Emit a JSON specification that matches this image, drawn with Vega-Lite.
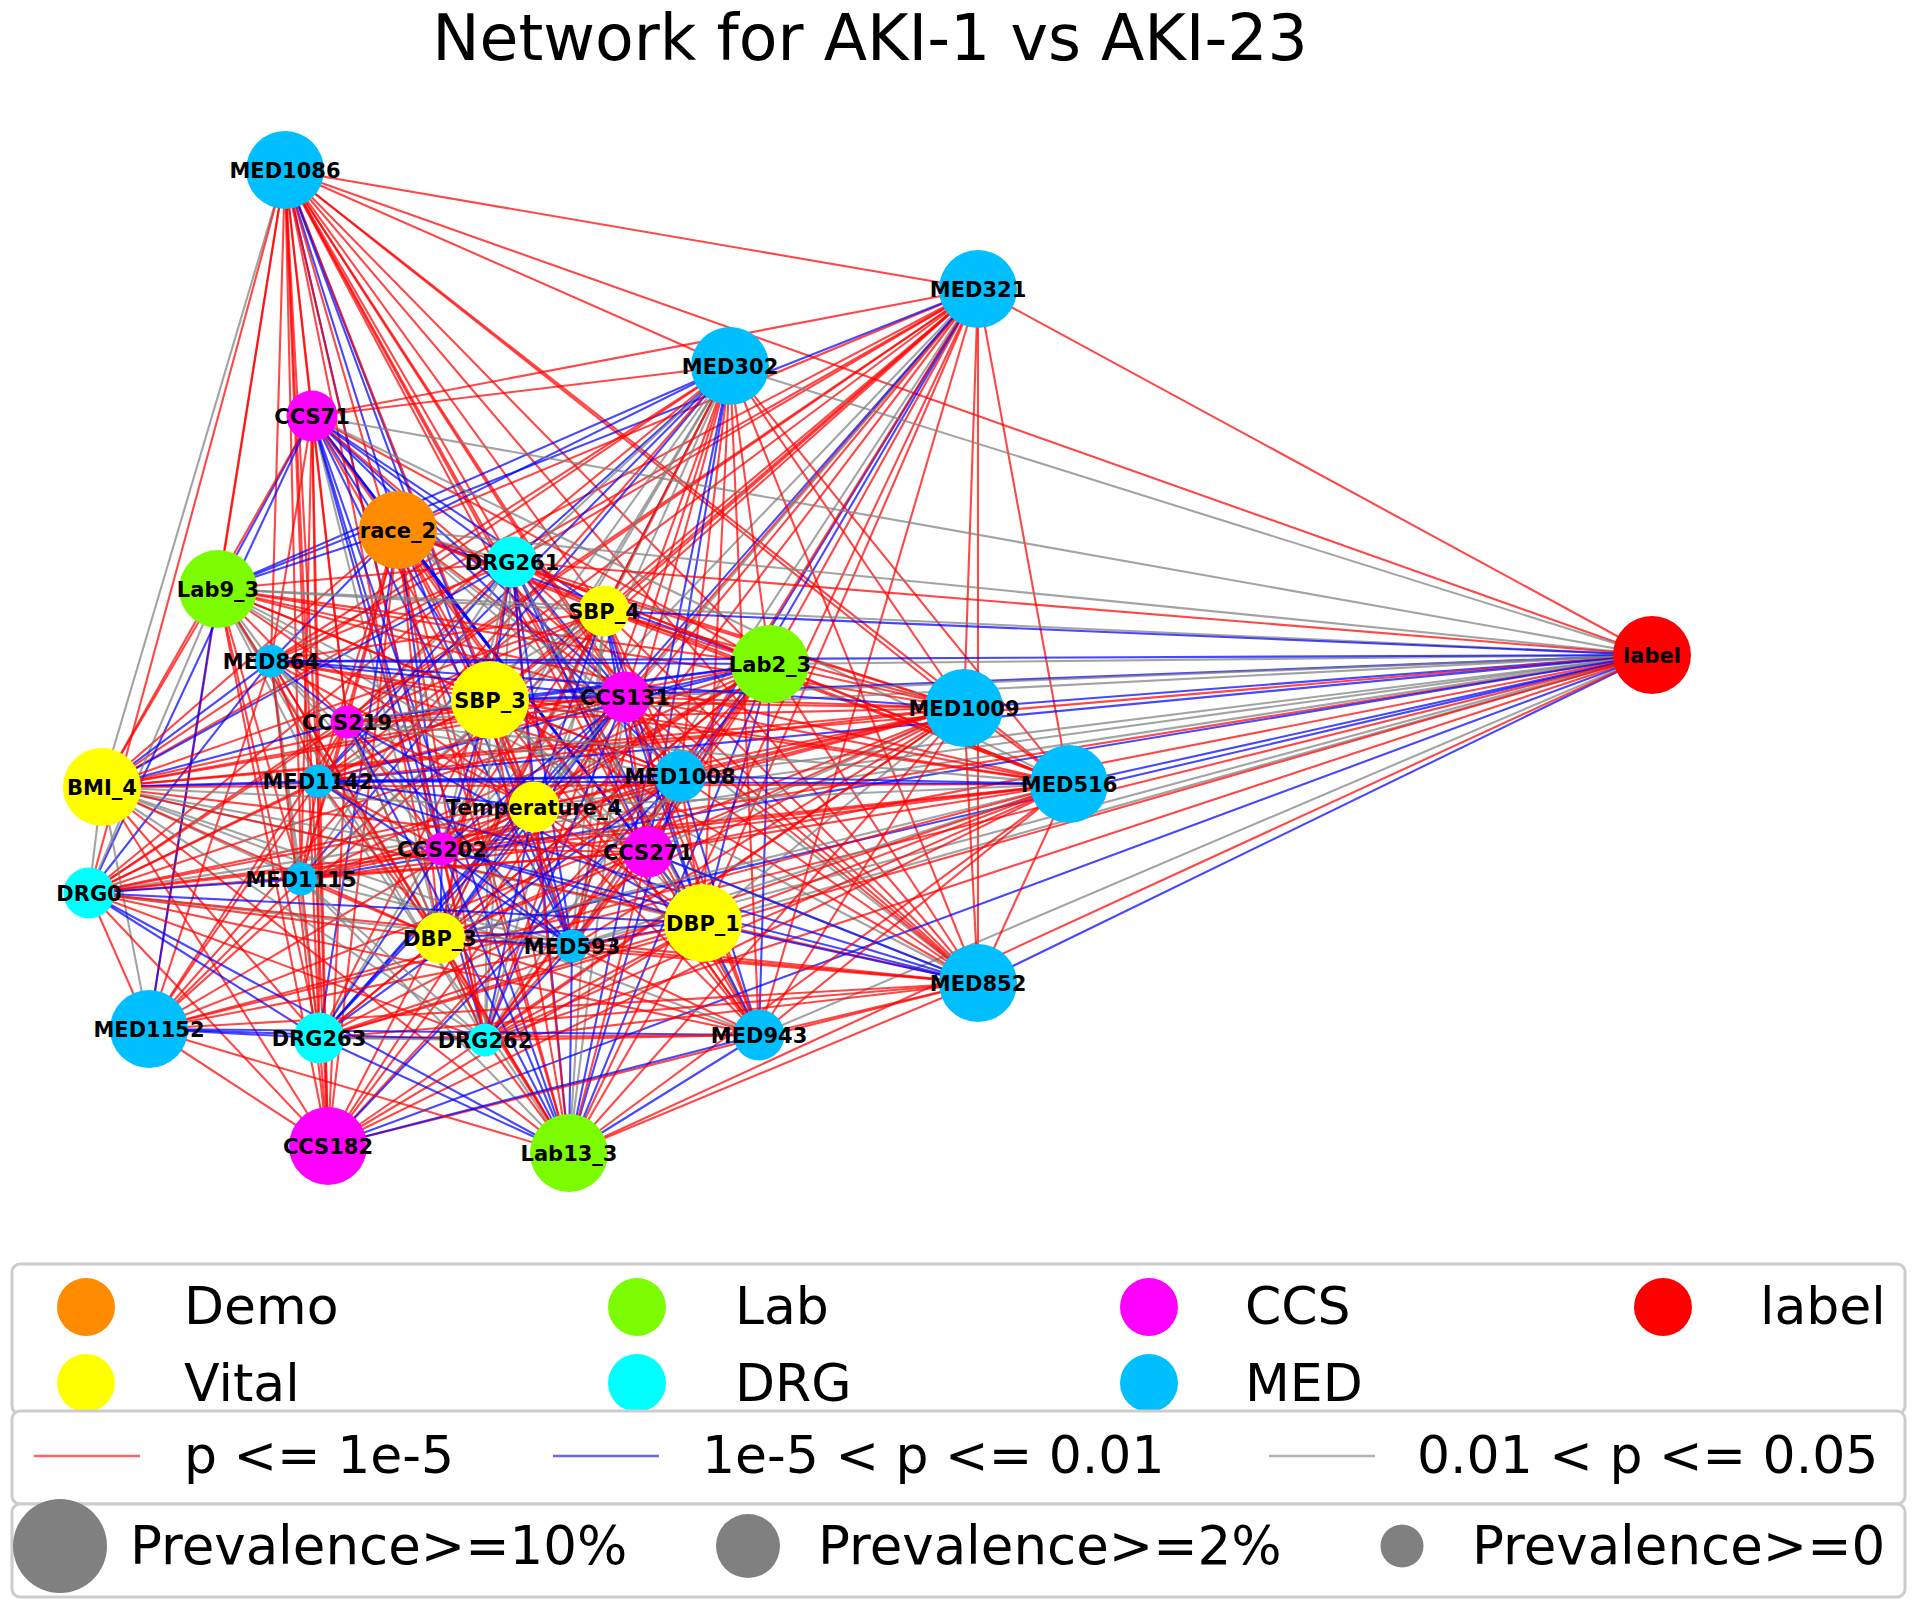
{"$schema":"https://vega.github.io/schema/vega-lite/v6.json","width":1920,"height":1613,"autosize":"none","padding":0,"background":"white","title":{"text":"Network for AKI-1 vs AKI-23","font":"DejaVu Sans","fontSize":63.3,"fontWeight":"normal","color":"black","anchor":"middle","dx":-90,"offset":-73,"frame":"group"},"config":{"view":{"stroke":null}},"resolve":{"scale":{"size":"independent"}},"datasets":{"nodes":[{"id":1,"name":"MED1086","group":"MED","prevalence":10,"x":285,"y":170},{"id":2,"name":"MED321","group":"MED","prevalence":10,"x":978,"y":289},{"id":3,"name":"MED302","group":"MED","prevalence":10,"x":730,"y":366},{"id":4,"name":"CCS71","group":"CCS","prevalence":2,"x":312,"y":416},{"id":5,"name":"race_2","group":"Demo","prevalence":10,"x":398,"y":530},{"id":6,"name":"DRG261","group":"DRG","prevalence":2,"x":512,"y":562},{"id":7,"name":"Lab9_3","group":"Lab","prevalence":10,"x":218,"y":589},{"id":8,"name":"SBP_4","group":"Vital","prevalence":2,"x":604,"y":611},{"id":9,"name":"label","group":"label","prevalence":10,"x":1652,"y":655},{"id":10,"name":"Lab2_3","group":"Lab","prevalence":10,"x":770,"y":664},{"id":11,"name":"MED864","group":"MED","prevalence":0,"x":271,"y":661},{"id":12,"name":"SBP_3","group":"Vital","prevalence":10,"x":490,"y":700},{"id":13,"name":"CCS131","group":"CCS","prevalence":2,"x":625,"y":697},{"id":14,"name":"MED1009","group":"MED","prevalence":10,"x":964,"y":708},{"id":15,"name":"CCS219","group":"CCS","prevalence":0,"x":347,"y":722},{"id":16,"name":"BMI_4","group":"Vital","prevalence":10,"x":102,"y":787},{"id":17,"name":"MED1142","group":"MED","prevalence":0,"x":318,"y":781},{"id":18,"name":"MED1008","group":"MED","prevalence":2,"x":680,"y":776},{"id":19,"name":"MED516","group":"MED","prevalence":10,"x":1069,"y":784},{"id":20,"name":"Temperature_4","group":"Vital","prevalence":2,"x":534,"y":807},{"id":21,"name":"CCS202","group":"CCS","prevalence":0,"x":442,"y":849},{"id":22,"name":"CCS271","group":"CCS","prevalence":2,"x":648,"y":852},{"id":23,"name":"DRG0","group":"DRG","prevalence":2,"x":89,"y":893},{"id":24,"name":"MED1115","group":"MED","prevalence":0,"x":301,"y":879},{"id":25,"name":"DBP_1","group":"Vital","prevalence":10,"x":703,"y":923},{"id":26,"name":"DBP_3","group":"Vital","prevalence":2,"x":440,"y":938},{"id":27,"name":"MED593","group":"MED","prevalence":0,"x":572,"y":946},{"id":28,"name":"MED852","group":"MED","prevalence":10,"x":978,"y":983},{"id":29,"name":"MED943","group":"MED","prevalence":2,"x":759,"y":1035},{"id":30,"name":"MED1152","group":"MED","prevalence":10,"x":149,"y":1029},{"id":31,"name":"DRG263","group":"DRG","prevalence":2,"x":319,"y":1038},{"id":32,"name":"DRG262","group":"DRG","prevalence":0,"x":485,"y":1040},{"id":33,"name":"CCS182","group":"CCS","prevalence":10,"x":328,"y":1146},{"id":34,"name":"Lab13_3","group":"Lab","prevalence":10,"x":569,"y":1153}],"edges":[
{"s":1,"t":2,"p":1},{"s":1,"t":3,"p":1},{"s":1,"t":4,"p":1},{"s":1,"t":5,"p":2},{"s":1,"t":6,"p":1},{"s":1,"t":7,"p":1},{"s":1,"t":8,"p":1},{"s":1,"t":9,"p":1},{"s":1,"t":10,"p":1},{"s":1,"t":11,"p":1},{"s":1,"t":12,"p":2},{"s":1,"t":13,"p":1},{"s":1,"t":14,"p":1},{"s":1,"t":15,"p":1},{"s":1,"t":16,"p":3},{"s":1,"t":17,"p":1},{"s":1,"t":18,"p":1},{"s":1,"t":19,"p":1},{"s":1,"t":20,"p":1},{"s":1,"t":21,"p":2},{"s":1,"t":22,"p":1},{"s":1,"t":23,"p":1},{"s":1,"t":24,"p":1},{"s":1,"t":25,"p":1},{"s":1,"t":26,"p":1},{"s":1,"t":27,"p":2},{"s":1,"t":28,"p":1},{"s":1,"t":29,"p":1},{"s":1,"t":30,"p":1},{"s":1,"t":31,"p":1},{"s":1,"t":32,"p":1},{"s":1,"t":33,"p":1},{"s":1,"t":34,"p":1},
{"s":2,"t":4,"p":1},{"s":2,"t":5,"p":1},{"s":2,"t":6,"p":1},{"s":2,"t":7,"p":2},{"s":2,"t":8,"p":1},{"s":2,"t":9,"p":1},{"s":2,"t":10,"p":1},{"s":2,"t":11,"p":1},{"s":2,"t":12,"p":1},{"s":2,"t":13,"p":1},{"s":2,"t":14,"p":1},{"s":2,"t":15,"p":1},{"s":2,"t":16,"p":1},{"s":2,"t":17,"p":1},{"s":2,"t":18,"p":2},{"s":2,"t":19,"p":1},{"s":2,"t":20,"p":3},{"s":2,"t":21,"p":3},{"s":2,"t":22,"p":2},{"s":2,"t":23,"p":1},{"s":2,"t":24,"p":1},{"s":2,"t":25,"p":1},{"s":2,"t":26,"p":1},{"s":2,"t":27,"p":1},{"s":2,"t":28,"p":1},{"s":2,"t":29,"p":1},{"s":2,"t":30,"p":1},{"s":2,"t":31,"p":2},{"s":2,"t":32,"p":3},{"s":2,"t":33,"p":1},{"s":2,"t":34,"p":1},
{"s":3,"t":4,"p":1},{"s":3,"t":5,"p":2},{"s":3,"t":6,"p":2},{"s":3,"t":7,"p":2},{"s":3,"t":8,"p":1},{"s":3,"t":9,"p":3},{"s":3,"t":10,"p":1},{"s":3,"t":11,"p":1},{"s":3,"t":12,"p":3},{"s":3,"t":13,"p":1},{"s":3,"t":14,"p":1},{"s":3,"t":15,"p":3},{"s":3,"t":16,"p":1},{"s":3,"t":17,"p":2},{"s":3,"t":18,"p":1},{"s":3,"t":19,"p":1},{"s":3,"t":20,"p":3},{"s":3,"t":21,"p":3},{"s":3,"t":22,"p":2},{"s":3,"t":23,"p":1},{"s":3,"t":24,"p":2},{"s":3,"t":25,"p":1},{"s":3,"t":26,"p":3},{"s":3,"t":27,"p":1},{"s":3,"t":28,"p":1},{"s":3,"t":29,"p":1},{"s":3,"t":30,"p":1},{"s":3,"t":31,"p":3},{"s":3,"t":32,"p":1},{"s":3,"t":33,"p":1},{"s":3,"t":34,"p":2},
{"s":4,"t":5,"p":2},{"s":4,"t":6,"p":2},{"s":4,"t":7,"p":2},{"s":4,"t":8,"p":2},{"s":4,"t":9,"p":3},{"s":4,"t":10,"p":1},{"s":4,"t":11,"p":1},{"s":4,"t":12,"p":2},{"s":4,"t":13,"p":2},{"s":4,"t":15,"p":1},{"s":4,"t":16,"p":1},{"s":4,"t":17,"p":1},{"s":4,"t":18,"p":2},{"s":4,"t":19,"p":3},{"s":4,"t":20,"p":1},{"s":4,"t":21,"p":2},{"s":4,"t":22,"p":2},{"s":4,"t":23,"p":2},{"s":4,"t":24,"p":1},{"s":4,"t":25,"p":2},{"s":4,"t":26,"p":3},{"s":4,"t":27,"p":2},{"s":4,"t":28,"p":1},{"s":4,"t":29,"p":1},{"s":4,"t":32,"p":2},{"s":4,"t":33,"p":1},{"s":4,"t":34,"p":2},
{"s":5,"t":6,"p":3},{"s":5,"t":7,"p":2},{"s":5,"t":8,"p":1},{"s":5,"t":9,"p":3},{"s":5,"t":10,"p":2},{"s":5,"t":11,"p":2},{"s":5,"t":12,"p":1},{"s":5,"t":13,"p":1},{"s":5,"t":14,"p":1},{"s":5,"t":15,"p":1},{"s":5,"t":16,"p":1},{"s":5,"t":17,"p":1},{"s":5,"t":18,"p":3},{"s":5,"t":19,"p":1},{"s":5,"t":20,"p":1},{"s":5,"t":21,"p":2},{"s":5,"t":22,"p":2},{"s":5,"t":24,"p":1},{"s":5,"t":25,"p":2},{"s":5,"t":26,"p":1},{"s":5,"t":27,"p":2},{"s":5,"t":28,"p":3},{"s":5,"t":29,"p":1},{"s":5,"t":31,"p":2},{"s":5,"t":32,"p":1},{"s":5,"t":33,"p":1},{"s":5,"t":34,"p":1},
{"s":6,"t":7,"p":1},{"s":6,"t":8,"p":1},{"s":6,"t":9,"p":1},{"s":6,"t":10,"p":1},{"s":6,"t":11,"p":1},{"s":6,"t":12,"p":2},{"s":6,"t":13,"p":2},{"s":6,"t":14,"p":1},{"s":6,"t":15,"p":1},{"s":6,"t":16,"p":2},{"s":6,"t":17,"p":2},{"s":6,"t":18,"p":1},{"s":6,"t":19,"p":1},{"s":6,"t":20,"p":1},{"s":6,"t":21,"p":3},{"s":6,"t":22,"p":2},{"s":6,"t":24,"p":3},{"s":6,"t":25,"p":2},{"s":6,"t":26,"p":1},{"s":6,"t":27,"p":2},{"s":6,"t":28,"p":1},{"s":6,"t":29,"p":3},{"s":6,"t":32,"p":3},{"s":6,"t":34,"p":2},
{"s":7,"t":8,"p":3},{"s":7,"t":9,"p":3},{"s":7,"t":10,"p":1},{"s":7,"t":11,"p":3},{"s":7,"t":12,"p":1},{"s":7,"t":13,"p":1},{"s":7,"t":14,"p":1},{"s":7,"t":15,"p":1},{"s":7,"t":16,"p":1},{"s":7,"t":17,"p":3},{"s":7,"t":18,"p":1},{"s":7,"t":19,"p":1},{"s":7,"t":20,"p":1},{"s":7,"t":22,"p":3},{"s":7,"t":23,"p":3},{"s":7,"t":24,"p":1},{"s":7,"t":26,"p":3},{"s":7,"t":28,"p":3},{"s":7,"t":30,"p":2},{"s":7,"t":31,"p":1},{"s":7,"t":32,"p":3},{"s":7,"t":33,"p":1},{"s":7,"t":34,"p":1},
{"s":8,"t":9,"p":2},{"s":8,"t":10,"p":1},{"s":8,"t":11,"p":1},{"s":8,"t":12,"p":1},{"s":8,"t":13,"p":2},{"s":8,"t":14,"p":1},{"s":8,"t":15,"p":1},{"s":8,"t":16,"p":1},{"s":8,"t":17,"p":3},{"s":8,"t":18,"p":1},{"s":8,"t":19,"p":1},{"s":8,"t":20,"p":2},{"s":8,"t":21,"p":1},{"s":8,"t":22,"p":2},{"s":8,"t":24,"p":3},{"s":8,"t":25,"p":2},{"s":8,"t":26,"p":1},{"s":8,"t":27,"p":3},{"s":8,"t":28,"p":1},{"s":8,"t":29,"p":1},{"s":8,"t":32,"p":3},{"s":8,"t":34,"p":3},
{"s":9,"t":10,"p":3},{"s":9,"t":11,"p":2},{"s":9,"t":12,"p":2},{"s":9,"t":13,"p":3},{"s":9,"t":14,"p":2},{"s":9,"t":15,"p":3},{"s":9,"t":16,"p":1},{"s":9,"t":17,"p":2},{"s":9,"t":18,"p":3},{"s":9,"t":19,"p":2},{"s":9,"t":20,"p":3},{"s":9,"t":21,"p":1},{"s":9,"t":22,"p":1},{"s":9,"t":23,"p":3},{"s":9,"t":24,"p":2},{"s":9,"t":25,"p":3},{"s":9,"t":26,"p":2},{"s":9,"t":27,"p":3},{"s":9,"t":28,"p":2},{"s":9,"t":29,"p":3},{"s":9,"t":30,"p":1},{"s":9,"t":31,"p":1},{"s":9,"t":32,"p":1},{"s":9,"t":33,"p":2},{"s":9,"t":34,"p":1},
{"s":10,"t":11,"p":2},{"s":10,"t":12,"p":2},{"s":10,"t":13,"p":2},{"s":10,"t":14,"p":1},{"s":10,"t":15,"p":2},{"s":10,"t":16,"p":1},{"s":10,"t":17,"p":2},{"s":10,"t":18,"p":2},{"s":10,"t":19,"p":1},{"s":10,"t":20,"p":1},{"s":10,"t":21,"p":1},{"s":10,"t":22,"p":1},{"s":10,"t":23,"p":1},{"s":10,"t":24,"p":1},{"s":10,"t":25,"p":2},{"s":10,"t":26,"p":1},{"s":10,"t":27,"p":1},{"s":10,"t":28,"p":1},{"s":10,"t":29,"p":2},{"s":10,"t":30,"p":1},{"s":10,"t":31,"p":1},{"s":10,"t":32,"p":1},{"s":10,"t":33,"p":1},{"s":10,"t":34,"p":2},
{"s":11,"t":12,"p":1},{"s":11,"t":13,"p":2},{"s":11,"t":14,"p":2},{"s":11,"t":15,"p":2},{"s":11,"t":16,"p":2},{"s":11,"t":17,"p":1},{"s":11,"t":18,"p":1},{"s":11,"t":19,"p":1},{"s":11,"t":20,"p":1},{"s":11,"t":21,"p":3},{"s":11,"t":23,"p":2},{"s":11,"t":24,"p":3},{"s":11,"t":26,"p":1},{"s":11,"t":27,"p":3},{"s":11,"t":30,"p":1},{"s":11,"t":31,"p":3},{"s":11,"t":33,"p":1},{"s":11,"t":34,"p":1},
{"s":12,"t":13,"p":2},{"s":12,"t":14,"p":1},{"s":12,"t":15,"p":3},{"s":12,"t":16,"p":1},{"s":12,"t":17,"p":1},{"s":12,"t":18,"p":1},{"s":12,"t":19,"p":1},{"s":12,"t":20,"p":1},{"s":12,"t":21,"p":2},{"s":12,"t":22,"p":3},{"s":12,"t":23,"p":1},{"s":12,"t":25,"p":3},{"s":12,"t":26,"p":1},{"s":12,"t":27,"p":1},{"s":12,"t":28,"p":1},{"s":12,"t":29,"p":1},{"s":12,"t":31,"p":1},{"s":12,"t":32,"p":3},{"s":12,"t":34,"p":1},
{"s":13,"t":14,"p":1},{"s":13,"t":15,"p":1},{"s":13,"t":16,"p":1},{"s":13,"t":17,"p":1},{"s":13,"t":18,"p":1},{"s":13,"t":19,"p":1},{"s":13,"t":20,"p":3},{"s":13,"t":21,"p":2},{"s":13,"t":22,"p":1},{"s":13,"t":25,"p":2},{"s":13,"t":26,"p":2},{"s":13,"t":27,"p":1},{"s":13,"t":28,"p":1},{"s":13,"t":29,"p":1},{"s":13,"t":31,"p":2},{"s":13,"t":32,"p":2},{"s":13,"t":33,"p":1},{"s":13,"t":34,"p":3},
{"s":14,"t":15,"p":1},{"s":14,"t":16,"p":1},{"s":14,"t":17,"p":1},{"s":14,"t":18,"p":1},{"s":14,"t":19,"p":1},{"s":14,"t":20,"p":1},{"s":14,"t":21,"p":1},{"s":14,"t":22,"p":3},{"s":14,"t":23,"p":1},{"s":14,"t":24,"p":1},{"s":14,"t":25,"p":3},{"s":14,"t":26,"p":1},{"s":14,"t":27,"p":1},{"s":14,"t":28,"p":1},{"s":14,"t":29,"p":1},{"s":14,"t":30,"p":1},{"s":14,"t":31,"p":1},{"s":14,"t":32,"p":1},{"s":14,"t":33,"p":1},{"s":14,"t":34,"p":1},
{"s":15,"t":16,"p":2},{"s":15,"t":17,"p":1},{"s":15,"t":18,"p":3},{"s":15,"t":19,"p":3},{"s":15,"t":20,"p":1},{"s":15,"t":21,"p":1},{"s":15,"t":23,"p":1},{"s":15,"t":24,"p":1},{"s":15,"t":25,"p":2},{"s":15,"t":26,"p":1},{"s":15,"t":27,"p":2},{"s":15,"t":30,"p":1},{"s":15,"t":32,"p":3},{"s":15,"t":33,"p":1},{"s":15,"t":34,"p":2},
{"s":16,"t":17,"p":2},{"s":16,"t":18,"p":2},{"s":16,"t":19,"p":1},{"s":16,"t":20,"p":3},{"s":16,"t":21,"p":3},{"s":16,"t":22,"p":1},{"s":16,"t":23,"p":3},{"s":16,"t":24,"p":3},{"s":16,"t":25,"p":3},{"s":16,"t":26,"p":1},{"s":16,"t":27,"p":3},{"s":16,"t":28,"p":1},{"s":16,"t":29,"p":3},{"s":16,"t":30,"p":3},{"s":16,"t":31,"p":1},{"s":16,"t":32,"p":3},{"s":16,"t":33,"p":1},{"s":16,"t":34,"p":1},
{"s":17,"t":18,"p":2},{"s":17,"t":19,"p":2},{"s":17,"t":20,"p":2},{"s":17,"t":21,"p":1},{"s":17,"t":23,"p":1},{"s":17,"t":24,"p":1},{"s":17,"t":26,"p":1},{"s":17,"t":27,"p":2},{"s":17,"t":28,"p":2},{"s":17,"t":30,"p":1},{"s":17,"t":31,"p":1},{"s":17,"t":33,"p":1},{"s":17,"t":34,"p":3},
{"s":18,"t":19,"p":2},{"s":18,"t":20,"p":1},{"s":18,"t":21,"p":1},{"s":18,"t":22,"p":1},{"s":18,"t":25,"p":1},{"s":18,"t":26,"p":1},{"s":18,"t":27,"p":3},{"s":18,"t":28,"p":1},{"s":18,"t":29,"p":2},{"s":18,"t":31,"p":2},{"s":18,"t":32,"p":1},{"s":18,"t":33,"p":2},{"s":18,"t":34,"p":2},
{"s":19,"t":20,"p":3},{"s":19,"t":21,"p":1},{"s":19,"t":22,"p":1},{"s":19,"t":23,"p":1},{"s":19,"t":24,"p":1},{"s":19,"t":25,"p":1},{"s":19,"t":26,"p":3},{"s":19,"t":27,"p":3},{"s":19,"t":28,"p":1},{"s":19,"t":29,"p":1},{"s":19,"t":30,"p":1},{"s":19,"t":31,"p":1},{"s":19,"t":32,"p":1},{"s":19,"t":33,"p":1},{"s":19,"t":34,"p":1},
{"s":20,"t":21,"p":1},{"s":20,"t":22,"p":1},{"s":20,"t":23,"p":1},{"s":20,"t":24,"p":1},{"s":20,"t":25,"p":1},{"s":20,"t":26,"p":2},{"s":20,"t":27,"p":2},{"s":20,"t":28,"p":3},{"s":20,"t":29,"p":1},{"s":20,"t":31,"p":2},{"s":20,"t":32,"p":2},{"s":20,"t":34,"p":1},
{"s":21,"t":22,"p":1},{"s":21,"t":23,"p":1},{"s":21,"t":24,"p":1},{"s":21,"t":25,"p":2},{"s":21,"t":26,"p":2},{"s":21,"t":27,"p":2},{"s":21,"t":28,"p":2},{"s":21,"t":31,"p":2},{"s":21,"t":32,"p":1},{"s":21,"t":34,"p":2},
{"s":22,"t":23,"p":1},{"s":22,"t":24,"p":1},{"s":22,"t":25,"p":3},{"s":22,"t":26,"p":1},{"s":22,"t":27,"p":1},{"s":22,"t":28,"p":2},{"s":22,"t":29,"p":1},{"s":22,"t":32,"p":1},{"s":22,"t":34,"p":1},
{"s":23,"t":24,"p":2},{"s":23,"t":25,"p":2},{"s":23,"t":26,"p":1},{"s":23,"t":27,"p":3},{"s":23,"t":28,"p":1},{"s":23,"t":29,"p":1},{"s":23,"t":30,"p":1},{"s":23,"t":31,"p":2},{"s":23,"t":32,"p":1},{"s":23,"t":33,"p":1},{"s":23,"t":34,"p":2},
{"s":24,"t":26,"p":1},{"s":24,"t":27,"p":3},{"s":24,"t":30,"p":1},{"s":24,"t":31,"p":1},{"s":24,"t":32,"p":3},{"s":24,"t":34,"p":3},
{"s":25,"t":26,"p":2},{"s":25,"t":27,"p":2},{"s":25,"t":28,"p":2},{"s":25,"t":29,"p":2},{"s":25,"t":30,"p":1},{"s":25,"t":31,"p":1},{"s":25,"t":32,"p":1},{"s":25,"t":33,"p":1},{"s":25,"t":34,"p":1},
{"s":26,"t":27,"p":2},{"s":26,"t":28,"p":1},{"s":26,"t":29,"p":1},{"s":26,"t":31,"p":1},{"s":26,"t":32,"p":1},{"s":26,"t":34,"p":1},
{"s":27,"t":28,"p":1},{"s":27,"t":29,"p":1},{"s":27,"t":32,"p":2},{"s":27,"t":34,"p":2},
{"s":28,"t":29,"p":1},{"s":28,"t":30,"p":1},{"s":28,"t":31,"p":1},{"s":28,"t":32,"p":1},{"s":28,"t":33,"p":1},{"s":28,"t":34,"p":1},
{"s":29,"t":30,"p":2},{"s":29,"t":31,"p":1},{"s":29,"t":32,"p":1},{"s":29,"t":33,"p":2},{"s":29,"t":34,"p":2},
{"s":30,"t":31,"p":2},{"s":30,"t":32,"p":2},{"s":30,"t":33,"p":1},{"s":30,"t":34,"p":1},
{"s":31,"t":32,"p":3},{"s":31,"t":33,"p":1},{"s":31,"t":34,"p":2},
{"s":32,"t":34,"p":1}],
"frames":[{"f":1,"x0":12,"x1":1905,"y0":1264,"y1":1414},{"f":2,"x0":12,"x1":1905,"y0":1411,"y1":1504},{"f":3,"x0":12,"x1":1905,"y0":1504,"y1":1597}],
"groupDots":[{"group":"Demo","x":86,"y":1307},{"group":"Vital","x":86,"y":1383},{"group":"Lab","x":637,"y":1307},{"group":"DRG","x":637,"y":1383},{"group":"CCS","x":1149,"y":1307},{"group":"MED","x":1149,"y":1383},{"group":"label","x":1663,"y":1307}],
"sizeDots":[{"prevalence":10,"x":60,"y":1546},{"prevalence":2,"x":748,"y":1546},{"prevalence":0,"x":1402,"y":1546}],
"keyLines":[{"p":1,"x0":34,"x1":140,"y":1456},{"p":2,"x0":553,"x1":659,"y":1456},{"p":3,"x0":1269,"x1":1375,"y":1456}],
"keyText":[{"text":"Demo","x":184,"y":1308},{"text":"Vital","x":184,"y":1385},{"text":"Lab","x":735,"y":1308},{"text":"DRG","x":735,"y":1385},{"text":"CCS","x":1245,"y":1308},{"text":"MED","x":1245,"y":1385},{"text":"label","x":1760,"y":1308},{"text":"p <= 1e-5","x":184,"y":1457},{"text":"1e-5 < p <= 0.01","x":702,"y":1457},{"text":"0.01 < p <= 0.05","x":1417,"y":1457}],
"sizeText":[{"text":"Prevalence>=10%","x":130,"y":1548},{"text":"Prevalence>=2%","x":818,"y":1548},{"text":"Prevalence>=0","x":1472,"y":1548}]},
"layer":[
{"data":{"name":"edges"},"transform":[{"lookup":"s","from":{"data":{"name":"nodes"},"key":"id","fields":["x","y"]},"as":["xa","ya"]},{"lookup":"t","from":{"data":{"name":"nodes"},"key":"id","fields":["x","y"]},"as":["xb","yb"]}],"mark":{"type":"rule","strokeWidth":2.1,"opacity":0.72},"encoding":{"x":{"field":"xa","type":"quantitative","scale":{"domain":[0,1920],"nice":false,"zero":false},"axis":null},"y":{"field":"ya","type":"quantitative","scale":{"domain":[1613,0],"nice":false,"zero":false},"axis":null},"x2":{"field":"xb"},"y2":{"field":"yb"},"stroke":{"field":"p","type":"nominal","scale":{"domain":[1,2,3],"range":["#ff0000","#0000ff","#808080"]},"legend":null}}},
{"data":{"name":"nodes"},"mark":{"type":"point","shape":"circle","filled":true,"opacity":1},"encoding":{"x":{"field":"x","type":"quantitative"},"y":{"field":"y","type":"quantitative"},"fill":{"field":"group","type":"nominal","scale":{"domain":["Demo","Vital","Lab","DRG","CCS","MED","label"],"range":["#ff8c00","#ffff00","#7cfc00","#00ffff","#ff00ff","#00bfff","#ff0000"]},"legend":null},"size":{"field":"prevalence","type":"quantitative","scale":{"type":"threshold","domain":[2,10],"range":[1089,2601,6084]},"legend":null}}},
{"data":{"name":"nodes"},"mark":{"type":"text","font":"DejaVu Sans","fontWeight":"bold","fontSize":21,"color":"black","align":"center","baseline":"middle","dy":1.5},"encoding":{"x":{"field":"x","type":"quantitative"},"y":{"field":"y","type":"quantitative"},"text":{"field":"name"}}},
{"data":{"name":"frames"},"transform":[{"filter":"datum.f==1"}],"mark":{"type":"rect","fill":"white","stroke":"#cccccc","strokeWidth":3,"cornerRadius":8},"encoding":{"x":{"field":"x0","type":"quantitative"},"x2":{"field":"x1"},"y":{"field":"y0","type":"quantitative"},"y2":{"field":"y1"}}},
{"data":{"name":"groupDots"},"mark":{"type":"point","shape":"circle","filled":true,"opacity":1,"size":3364},"encoding":{"x":{"field":"x","type":"quantitative"},"y":{"field":"y","type":"quantitative"},"fill":{"field":"group","type":"nominal"}}},
{"data":{"name":"frames"},"transform":[{"filter":"datum.f>1"}],"mark":{"type":"rect","fill":"white","stroke":"#cccccc","strokeWidth":3,"cornerRadius":8},"encoding":{"x":{"field":"x0","type":"quantitative"},"x2":{"field":"x1"},"y":{"field":"y0","type":"quantitative"},"y2":{"field":"y1"}}},
{"data":{"name":"keyLines"},"mark":{"type":"rule","strokeWidth":2.5,"opacity":0.6},"encoding":{"x":{"field":"x0","type":"quantitative"},"x2":{"field":"x1"},"y":{"field":"y","type":"quantitative"},"stroke":{"field":"p","type":"nominal"}}},
{"data":{"name":"sizeDots"},"mark":{"type":"point","shape":"circle","filled":true,"opacity":1,"fill":"#808080"},"encoding":{"x":{"field":"x","type":"quantitative"},"y":{"field":"y","type":"quantitative"},"size":{"field":"prevalence","type":"quantitative","scale":{"type":"threshold","domain":[2,10],"range":[1849,4096,8836]},"legend":null}}},
{"data":{"name":"keyText"},"mark":{"type":"text","font":"DejaVu Sans","fontSize":52,"color":"black","align":"left","baseline":"middle"},"encoding":{"x":{"field":"x","type":"quantitative"},"y":{"field":"y","type":"quantitative"},"text":{"field":"text"}}},
{"data":{"name":"sizeText"},"mark":{"type":"text","font":"DejaVu Sans","fontSize":53,"color":"black","align":"left","baseline":"middle"},"encoding":{"x":{"field":"x","type":"quantitative"},"y":{"field":"y","type":"quantitative"},"text":{"field":"text"}}}
]}
